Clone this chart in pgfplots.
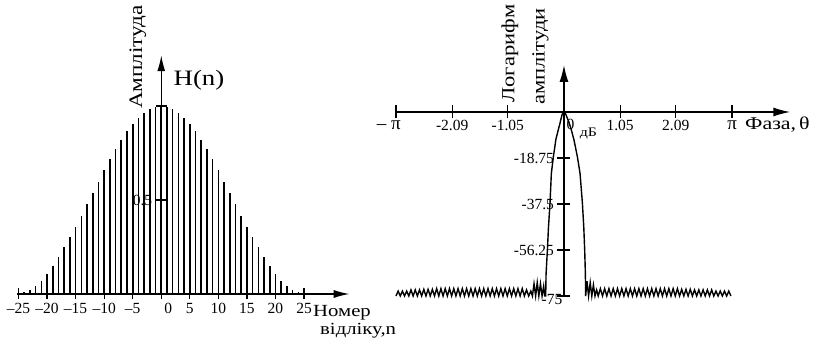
\documentclass[border=0pt]{standalone}
\usepackage{fontspec}
\setmainfont{Liberation Serif}
\newfontfamily\widefont[FakeStretch=1.22]{Liberation Serif}
\usepackage{pgfplots}
\pgfplotsset{compat=1.18}
\usetikzlibrary{arrows.meta}
\begin{document}
\begin{tikzpicture}
% ---------------- left: impulse response ----------------
\begin{axis}[
  at={(16.8pt,50pt)}, anchor=south west, scale only axis,
  width=332.9pt, height=238.8pt,
  xmin=-25.3, xmax=33, ymin=0, ymax=1.27,
  axis lines=middle,
  axis line style={line width=1.5pt, -{Latex[length=16pt,width=8pt]}},
  hide obscured x ticks=false, hide obscured y ticks=false,
  xtick={-25,-20,...,25},
  xticklabels={–25,–20,–15,–10,–5,{\hspace*{14pt}0},5,10,15,20,25},
  ytick={0.5,1}, yticklabels={0.5,{}},
  tick align=center, major tick length=11pt,
  tick style={line width=1.2pt, black},
  ticklabel style={font=\fontsize{15.5}{15.5}\selectfont},
  clip=false,
]
\addplot[ycomb, black, line width=1.6pt] coordinates {
(-24,0.013)(-23,0.022)(-22,0.042)(-21,0.071)(-20,0.107)(-19,0.148)(-18,0.196)
(-17,0.248)(-16,0.302)(-15,0.358)(-14,0.416)(-13,0.476)(-12,0.537)(-11,0.598)
(-10,0.658)(-9,0.716)(-8,0.771)(-7,0.821)(-6,0.866)(-5,0.905)(-4,0.938)
(-3,0.965)(-2,0.984)(-1,0.996)(0,1.0)(1,0.996)(2,0.984)(3,0.965)(4,0.938)
(5,0.905)(6,0.866)(7,0.821)(8,0.771)(9,0.716)(10,0.658)(11,0.598)(12,0.537)
(13,0.476)(14,0.416)(15,0.358)(16,0.302)(17,0.248)(18,0.196)(19,0.148)
(20,0.107)(21,0.071)(22,0.042)(23,0.022)(24,0.013)};
\end{axis}
% ---------------- right: log magnitude ----------------
\begin{axis}[
  at={(395.9pt,48pt)}, anchor=south west, scale only axis,
  width=394.4pt, height=231pt,
  xmin=-3.1416, xmax=4.23, ymin=-75, ymax=19.16,
  axis lines=middle,
  axis line style={line width=1.5pt, -{Latex[length=17pt,width=9pt]}},
  hide obscured x ticks=false, hide obscured y ticks=false,
  xtick={-3.1416,-2.09,-1.05,1.05,2.09,3.1416},
  xticklabels={{\fontsize{19}{19}\selectfont\llap{– }π},-2.09,-1.05,1.05,2.09,{\fontsize{19}{19}\selectfont π}},
  ytick={-75,-56.25,-37.5,-18.75}, yticklabels={{},-56.25,-37.5,-18.75},
  tick align=center, major tick length=13pt,
  tick style={line width=1.2pt, black},
  ticklabel style={font=\fontsize{15.5}{15.5}\selectfont},
  xticklabel style={yshift=1.5pt},
  clip=false,
]
\addplot[black, line width=1.4pt] coordinates {
(-3.14,-75)(-3.10,-73)(-3.06,-75)(-3.02,-73)(-2.98,-75)(-2.94,-73)(-2.90,-75)(-2.86,-72.5)
(-2.82,-75)(-2.78,-72.5)(-2.74,-75)(-2.70,-72.5)(-2.66,-75)(-2.62,-72.3)(-2.58,-75)(-2.54,-72.3)
(-2.50,-75)(-2.46,-72.3)(-2.42,-75)(-2.38,-72)(-2.34,-75)(-2.30,-72)(-2.26,-75)(-2.22,-72)
(-2.18,-75)(-2.14,-72)(-2.10,-75)(-2.06,-72)(-2.02,-75)(-1.98,-72)(-1.94,-75)(-1.90,-72)
(-1.86,-75)(-1.82,-72)(-1.78,-75)(-1.74,-72)(-1.70,-75)(-1.66,-72)(-1.62,-75)(-1.58,-72)
(-1.54,-75)(-1.50,-72)(-1.46,-75)(-1.42,-72)(-1.38,-75)(-1.34,-72)(-1.30,-75)(-1.26,-72)
(-1.22,-75)(-1.18,-72)(-1.14,-75)(-1.10,-72)(-1.06,-75)(-1.02,-72)(-0.98,-75)(-0.94,-72)
(-0.90,-75)(-0.86,-72)(-0.82,-75)(-0.78,-72)(-0.74,-75)(-0.70,-72.5)(-0.66,-75)
(-0.62,-73)(-0.59,-75)(-0.56,-70)(-0.53,-75)(-0.50,-69.5)(-0.47,-75)(-0.44,-70)(-0.41,-75)
(-0.38,-71)(-0.36,-75)
(-0.342,-75)(-0.335,-66)(-0.31,-56.25)(-0.29,-47)(-0.262,-37.5)(-0.236,-25)(-0.198,-18.2)
(-0.15,-11)(-0.075,-4.6)(-0.035,-1)(0,0)
(0.035,-1)(0.09,-4)(0.14,-7.5)(0.187,-11.4)(0.25,-18.2)(0.30,-25)(0.344,-37.1)(0.37,-47)
(0.387,-56.25)(0.40,-66)(0.405,-75)
(0.43,-69)(0.46,-75)(0.49,-69.5)(0.52,-75)(0.55,-70.5)(0.58,-75)(0.61,-72.5)(0.64,-75)
(0.68,-72)(0.72,-75)(0.76,-72)(0.80,-75)(0.84,-72)(0.88,-75)(0.92,-72)(0.96,-75)
(1.00,-72)(1.04,-75)(1.08,-72)(1.12,-75)(1.16,-72)(1.20,-75)(1.24,-72)(1.28,-75)
(1.32,-72)(1.36,-75)(1.40,-72)(1.44,-75)(1.48,-72)(1.52,-75)(1.56,-72)(1.60,-75)
(1.64,-72)(1.68,-75)(1.72,-72)(1.76,-75)(1.80,-72)(1.84,-75)(1.88,-72)(1.92,-75)
(1.96,-72)(2.00,-75)(2.04,-72)(2.08,-75)(2.12,-72)(2.16,-75)(2.20,-72.3)(2.24,-75)
(2.28,-72.3)(2.32,-75)(2.36,-72.3)(2.40,-75)(2.44,-72.5)(2.48,-75)(2.52,-72.5)(2.56,-75)
(2.60,-72.5)(2.64,-75)(2.68,-72.5)(2.72,-75)(2.76,-72.5)(2.80,-75)(2.84,-73)(2.88,-75)
(2.92,-73)(2.96,-75)(3.00,-73)(3.04,-75)(3.08,-73)(3.12,-75)};
\end{axis}
% ---------------- texts ----------------
\node[rotate=90, font=\widefont\fontsize{19}{19}\selectfont] at (138pt,287pt) {Амплітуда};
\node[font=\widefont\fontsize{22}{22}\selectfont] at (199pt,264pt) {H(n)};
\node[anchor=base west, inner sep=0, font=\widefont\fontsize{17}{17}\selectfont] at (313pt,27pt) {Номер};
\node[anchor=base west, inner sep=0, font=\widefont\fontsize{17}{17}\selectfont] at (320pt,9pt) {відліку,n};
\node[rotate=90, font=\widefont\fontsize{18.5}{18.5}\selectfont] at (510pt,290.5pt) {Логарифм};
\node[rotate=90, font=\widefont\fontsize{18.5}{18.5}\selectfont] at (540.5pt,287.5pt) {амплітуди};
\node[anchor=west, inner sep=0, font=\widefont\fontsize{18}{18}\selectfont] at (745pt,219pt) {Фаза,\,θ};
\node[font=\widefont\fontsize{13}{13}\selectfont] at (588.5pt,210pt) {дБ};
\node[font=\fontsize{15.5}{15.5}\selectfont] at (570.5pt,220pt) {0};
\node[font=\fontsize{15.5}{15.5}\selectfont] at (552pt,44pt) {-75};
\path (0pt,0pt) rectangle (816pt,344pt);
\end{tikzpicture}
\end{document}
